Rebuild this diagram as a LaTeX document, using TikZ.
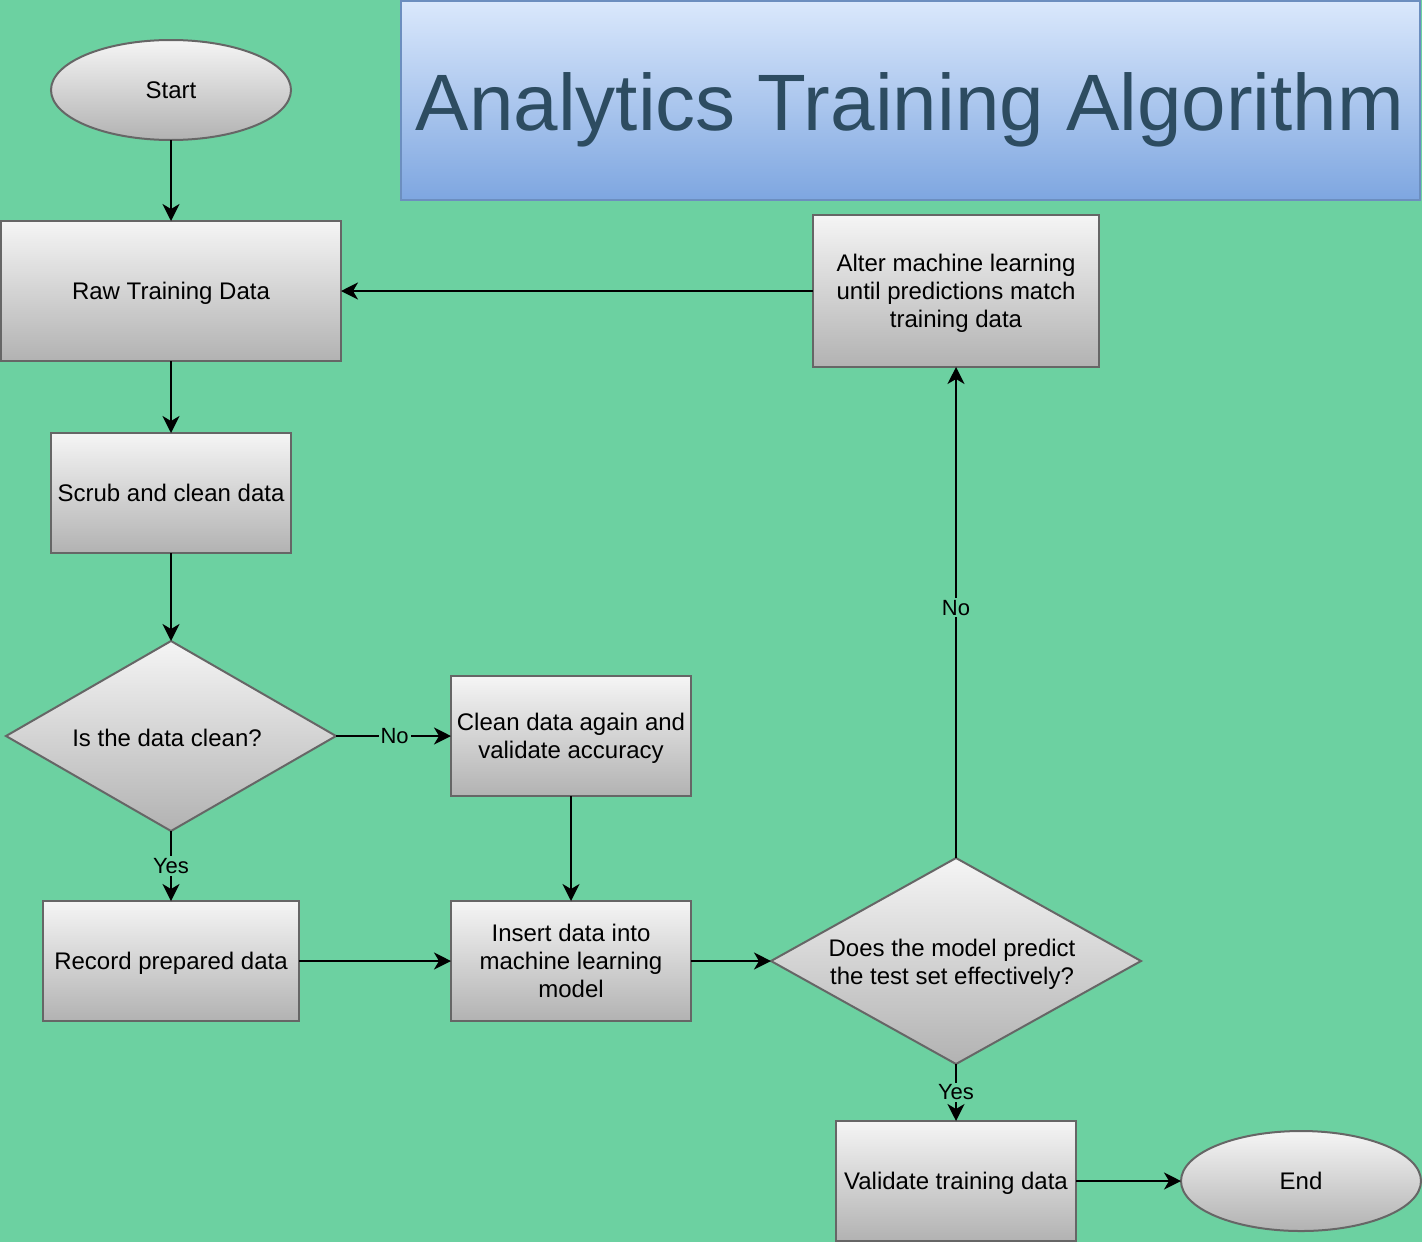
\documentclass[tikz,border=0pt]{standalone}
\usepackage{fontspec}
\setmainfont{Liberation Sans}
\usetikzlibrary{shapes.geometric,arrows.meta}
\definecolor{bg}{RGB}{108,209,161}
\definecolor{boxtop}{RGB}{245,245,245}
\definecolor{boxbot}{RGB}{178,178,178}
\definecolor{edgegray}{RGB}{102,102,102}
\definecolor{titletop}{RGB}{218,232,252}
\definecolor{titlebot}{RGB}{126,166,224}
\definecolor{titleborder}{RGB}{108,142,191}
\definecolor{titletext}{RGB}{45,76,97}
\begin{document}
\begin{tikzpicture}[x=0.5pt,y=-0.5pt,
 base/.style={draw=edgegray, line width=1pt, top color=boxtop, bottom color=boxbot,
   font=\fontsize{12}{14}\selectfont, align=center, inner sep=0pt, outer sep=0pt, text depth=0pt},
 procbox/.style={base, rectangle},
 term/.style={base, ellipse},
 decide/.style={base, diamond},
 conn/.style={line width=1pt, -{Stealth[length=8.5pt,width=8.5pt,inset=2.5pt]}},
 lbl/.style={fill=bg, font=\fontsize{11}{13}\selectfont, inner sep=1pt}
]
\fill[bg] (0,0) rectangle (1422,1242);
\useasboundingbox (0,0) rectangle (1422,1242);

\node[draw=titleborder, line width=1pt, top color=titletop, bottom color=titlebot,
  minimum width=509.5pt, minimum height=99.5pt, inner sep=0pt, outer sep=0pt] (title) at (910.5,100.5) {};
\node[anchor=base, text=titletext, font=\fontsize{40}{48}\selectfont, inner sep=0pt] (ttext) at (910,130) {Analytics Training Algorithm};

\node[term, minimum width=120pt, minimum height=50pt] (start) at (171,90) {Start};
\node[procbox, minimum width=170pt, minimum height=70pt] (raw) at (171,291) {Raw Training Data};
\node[procbox, minimum width=120pt, minimum height=60pt] (scrub) at (171,493) {Scrub and clean data};
\node[decide, minimum width=165pt, minimum height=95pt, aspect=1.74] (d1) at (171,736) {};
\node[font=\fontsize{12}{14}\selectfont, inner sep=0pt] (d1t) at (167,738) {Is the data clean?};
\node[procbox, minimum width=120pt, minimum height=60pt] (clean) at (571,736) {Clean data again and\\validate accuracy};
\node[procbox, minimum width=128pt, minimum height=60pt] (record) at (171,961) {Record prepared data};
\node[procbox, minimum width=120pt, minimum height=60pt] (insert) at (571,961) {Insert data into\\machine learning\\model};
\node[decide, minimum width=185pt, minimum height=103pt, aspect=1.8] (d2) at (956,961) {};
\node[font=\fontsize{12}{14}\selectfont, align=center, inner sep=0pt] (d2t) at (952,964) {Does the model predict\\the test set effectively?};
\node[procbox, minimum width=143pt, minimum height=76pt] (alter) at (956,291) {Alter machine learning\\until predictions match\\training data};
\node[procbox, minimum width=120pt, minimum height=60pt] (valid) at (956,1181) {Validate training data};
\node[term, minimum width=120pt, minimum height=50pt] (end) at (1301,1181) {End};

\draw[conn] (start) -- (raw);
\draw[conn] (raw) -- (scrub);
\draw[conn] (scrub) -- (d1);
\draw[conn] (d1) -- node[lbl, pos=0.51]{No} (clean);
\draw[conn] (d1) -- node[lbl]{Yes} (record);
\draw[conn] (clean) -- (insert);
\draw[conn] (record) -- (insert);
\draw[conn] (insert) -- (d2);
\draw[conn] (d2) -- node[lbl, pos=0.51]{No} (alter);
\draw[conn] (d2) -- node[lbl]{Yes} (valid);
\draw[conn] (alter) -- (raw);
\draw[conn] (valid) -- (end);
\end{tikzpicture}
\end{document}
